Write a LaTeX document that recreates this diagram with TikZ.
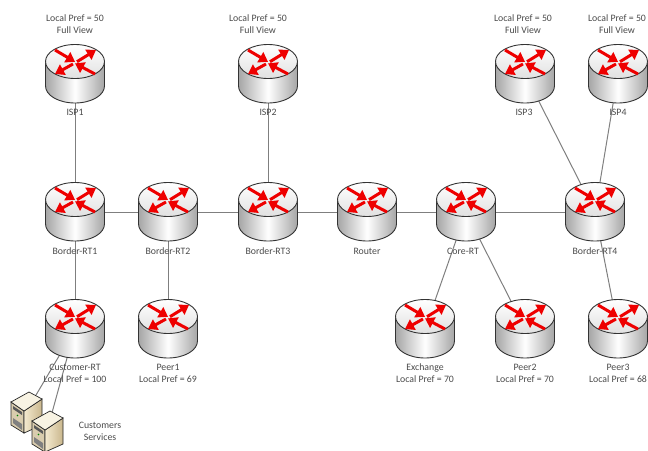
\documentclass[tikz,border=0pt]{standalone}
\usepackage{fontspec}
\setmainfont{Carlito}
\usetikzlibrary{arrows.meta}

\definecolor{txtgray}{HTML}{4A4A4A}
\definecolor{linkgray}{HTML}{7F7F7F}
\definecolor{arrowred}{HTML}{EE0000}
\definecolor{srvlight}{HTML}{F4EAD0}
\definecolor{srvdark}{HTML}{C9B68C}

\tikzset{
    rt/.style={inner sep=0pt, minimum width=59pt, minimum height=58pt},
    srv/.style={inner sep=0pt, minimum width=32pt, minimum height=40pt},
    txt/.style={text=txtgray, font=\fontsize{9.8}{12}\selectfont, align=center, inner sep=0pt},
    link/.style={draw=linkgray, line width=1pt},
    redarrow/.style={draw=arrowred, line width=3pt, -{Triangle[width=11.5pt,length=9pt]}},
    router/.pic={
        \shade[draw=black!80, line width=0.9pt, left color=black!35, right color=black!35, middle color=white]
            (-29.5,-12.5) -- (-29.5,12) arc (180:0:29.5 and 17) -- (29.5,-12.5) -- cycle;
        \shade[draw=black!80, line width=0.9pt, top color=white, bottom color=black!12]
            (0,-12.5) ellipse (29.5 and 17);
        \draw[redarrow] (-20,-24) -- (0,-12.2);
        \draw[redarrow] (2,-12.3) -- (21,-24);
        \draw[redarrow] (-2,-10) -- (-20,0);
        \draw[redarrow] (20,0) -- (0,-10.6);
    },
    server/.pic={
        \fill[srvdark!70!white, draw=black!85, line width=0.7pt] (-15,-10) -- (-2,-1) -- (-2,21) -- (-15,13) -- cycle;
        \shade[draw=black!85, line width=0.7pt, left color=srvlight, right color=srvdark] (-2,-1) -- (16,-13) -- (16,13) -- (-2,21) -- cycle;
        \fill[srvlight!60!white, draw=black!85, line width=0.7pt] (-15,-10) -- (3,-20) -- (16,-13) -- (-2,-1) -- cycle;
        \fill[black!65] (-13,-6) -- (-4,0) -- (-4,3) -- (-13,-3) -- cycle;
        \fill[black!50] (-13,6) -- (-4,12) -- (-4,18) -- (-13,11) -- cycle;
        \fill[green!50!black] (-8.5,3.5) circle (0.9);
    }
}

\begin{document}
\begin{tikzpicture}[x=1pt, y=-1pt]
    \useasboundingbox (0,0) rectangle (648,450);

    % routers
    \node[rt] (isp1) at (75,74) {};
    \node[rt] (isp2) at (268,74) {};
    \node[rt] (isp3) at (525,74) {};
    \node[rt] (isp4) at (618,74) {};
    \node[rt] (border1) at (75,212) {};
    \node[rt] (border2) at (168,212) {};
    \node[rt] (border3) at (268,212) {};
    \node[rt] (mainrt) at (367,212) {};
    \node[rt] (core) at (466,212) {};
    \node[rt] (border4) at (595,212) {};
    \node[rt] (customer) at (75,329) {};
    \node[rt] (peer1) at (168,329) {};
    \node[rt] (exchange) at (425,329) {};
    \node[rt] (peer2) at (525,329) {};
    \node[rt] (peer3) at (618,329) {};
    \node[srv] (srv1) at (26,412) {};
    \node[srv] (srv2) at (47,431) {};

    % links
    \draw[link] (isp1.center) -- (border1.center);
    \draw[link] (isp2.center) -- (border3.center);
    \draw[link] (isp3.center) -- (border4.center);
    \draw[link] (isp4.center) -- (border4.center);
    \draw[link] (border1.center) -- (border2.center);
    \draw[link] (border2.center) -- (border3.center);
    \draw[link] (border3.center) -- (mainrt.center);
    \draw[link] (mainrt.center) -- (core.center);
    \draw[link] (core.center) -- (border4.center);
    \draw[link] (border1.center) -- (customer.center);
    \draw[link] (border2.center) -- (peer1.center);
    \draw[link] (core.center) -- (exchange.center);
    \draw[link] (core.center) -- (peer2.center);
    \draw[link] (border4.center) -- (peer3.center);
    \draw[link] (customer.center) -- (srv1.center);
    \draw[link] (customer.center) -- (srv2.center);

    \foreach \rtname in {isp1,isp2,isp3,isp4,border1,border2,border3,mainrt,core,border4,customer,peer1,exchange,peer2,peer3}
        \pic at (\rtname) {router};
    \pic at (srv1) {server};
    \pic at (srv2) {server};

    % labels
    \node[txt] (isp1top) at (75,24) {Local Pref = 50\\Full View};
    \node[txt] (isp2top) at (258,24) {Local Pref = 50\\Full View};
    \node[txt] (isp3top) at (523,24) {Local Pref = 50\\Full View};
    \node[txt] (isp4top) at (617,24) {Local Pref = 50\\Full View};
    \node[txt] (isp1txt) at (75,112) {ISP1};
    \node[txt] (isp2txt) at (268,112) {ISP2};
    \node[txt] (isp3txt) at (524,112) {ISP3};
    \node[txt] (isp4txt) at (618,112) {ISP4};
    \node[txt] (border1txt) at (75,251) {Border-RT1};
    \node[txt] (border2txt) at (168,251) {Border-RT2};
    \node[txt] (border3txt) at (268,251) {Border-RT3};
    \node[txt] (mainrttxt) at (367,251) {Router};
    \node[txt] (coretxt) at (463,251) {Core-RT};
    \node[txt] (border4txt) at (595,251) {Border-RT4};
    \node[txt] (customertxt) at (75,373) {Customer-RT\\Local Pref = 100};
    \node[txt] (peer1txt) at (168,373) {Peer1\\Local Pref = 69};
    \node[txt] (exchangetxt) at (425,373) {Exchange\\Local Pref = 70};
    \node[txt] (peer2txt) at (525,373) {Peer2\\Local Pref = 70};
    \node[txt] (peer3txt) at (618,373) {Peer3\\Local Pref = 68};
    \node[txt] (srvtxt) at (100,431) {Customers\\Services};
\end{tikzpicture}
\end{document}
